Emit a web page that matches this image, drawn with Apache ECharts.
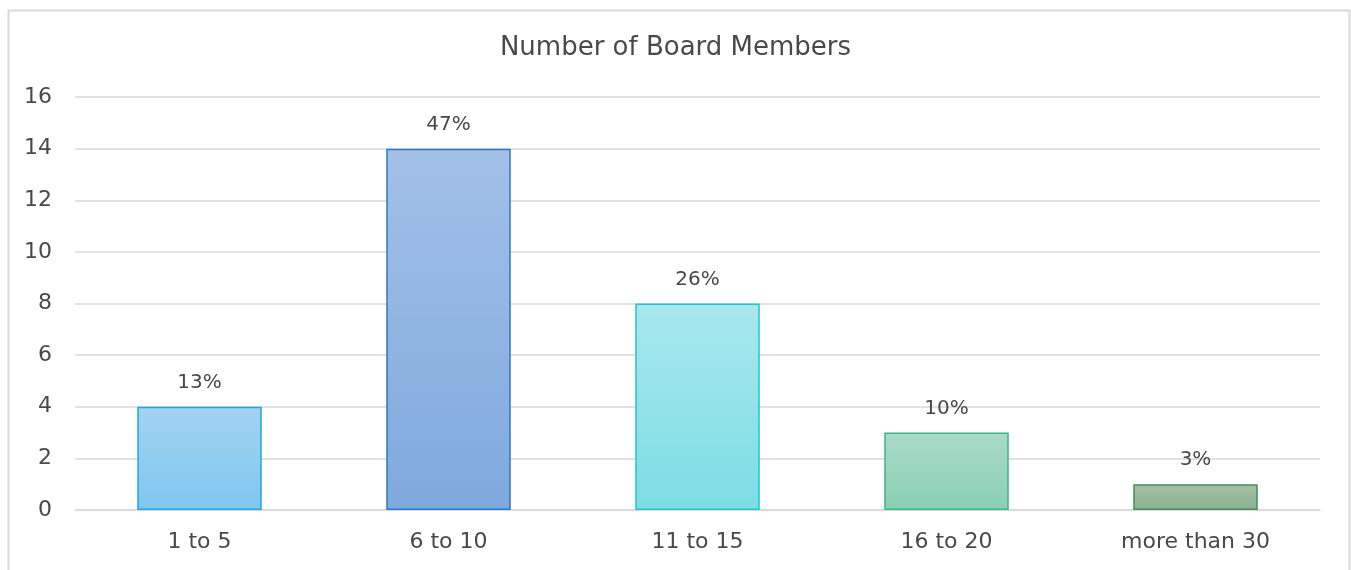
<!DOCTYPE html>
<html>
<head>
<meta charset="utf-8">
<script src="https://cdn.jsdelivr.net/npm/echarts@6/dist/echarts.min.js"></script>
<style>
  html, body { margin: 0; padding: 0; background: #fff; }
  #main { width: 1351px; height: 570px; }
</style>
</head>
<body>
<div id="main"></div>
<script>
const categories = ['1 to 5', '6 to 10', '11 to 15', '16 to 20', 'more than 30'];
const counts = [4, 14, 8, 3, 1];
const percentLabels = ['13%', '47%', '26%', '10%', '3%'];
const yTicks = [0, 2, 4, 6, 8, 10, 12, 14, 16];

// top colour, bottom colour, border colour for each bar
const barColors = [
  ['#a3d3f2', '#7fc6ef', '#1fa8e0'],
  ['#a3c0e8', '#7ea9de', '#2a7ac8'],
  ['#a9e7ee', '#7bdee4', '#25c4cd'],
  ['#aadac8', '#89d0b3', '#3db38a'],
  ['#a7c0a6', '#89b190', '#468c5c']
];

const font = 'DejaVu Sans';
const textColor = '#494949';

const chart = echarts.init(document.getElementById('main'), null, { renderer: 'canvas' });

const option = {
  backgroundColor: '#fff',
  animation: false,
  graphic: [{
    type: 'rect',
    left: 6,
    top: 8,
    shape: { width: 1341, height: 600 },
    style: { fill: 'none', stroke: '#d9d9d9', lineWidth: 2 },
    silent: true
  }],
  title: {
    text: 'Number of Board Members',
    left: 'center',
    top: 34,
    padding: 0,
    textStyle: {
      fontFamily: font,
      fontSize: 26,
      fontWeight: 'normal',
      color: textColor,
      lineHeight: 28
    }
  },
  grid: {
    left: 75,
    right: 31,
    top: 97,
    bottom: 60,
    containLabel: false
  },
  xAxis: {
    type: 'category',
    data: categories,
    axisTick: { show: false },
    axisLine: { show: true, lineStyle: { color: '#d9d9d9', width: 1.5 } },
    axisLabel: {
      margin: 21,
      fontFamily: font,
      fontSize: 22,
      lineHeight: 22,
      color: textColor
    }
  },
  yAxis: {
    type: 'value',
    min: yTicks[0],
    max: yTicks[yTicks.length - 1],
    interval: yTicks[1] - yTicks[0],
    axisLine: { show: false },
    axisTick: { show: false },
    splitLine: { lineStyle: { color: '#d9d9d9', width: 1.5 } },
    axisLabel: {
      margin: 23,
      fontFamily: font,
      fontSize: 22,
      color: textColor
    }
  },
  series: [{
    type: 'bar',
    barWidth: '50%',
    data: counts.map(function (v, i) {
      const c = barColors[i];
      return {
        value: v,
        itemStyle: {
          color: new echarts.graphic.LinearGradient(0, 0, 0, 1, [
            { offset: 0, color: c[0] },
            { offset: 1, color: c[1] }
          ]),
          borderColor: c[2],
          borderWidth: 1.5
        }
      };
    }),
    label: {
      show: true,
      position: 'top',
      distance: 14,
      fontFamily: font,
      fontSize: 20,
      color: textColor,
      formatter: function (p) {
        return percentLabels[p.dataIndex];
      }
    }
  }]
};

chart.setOption(option);
</script>
</body>
</html>
